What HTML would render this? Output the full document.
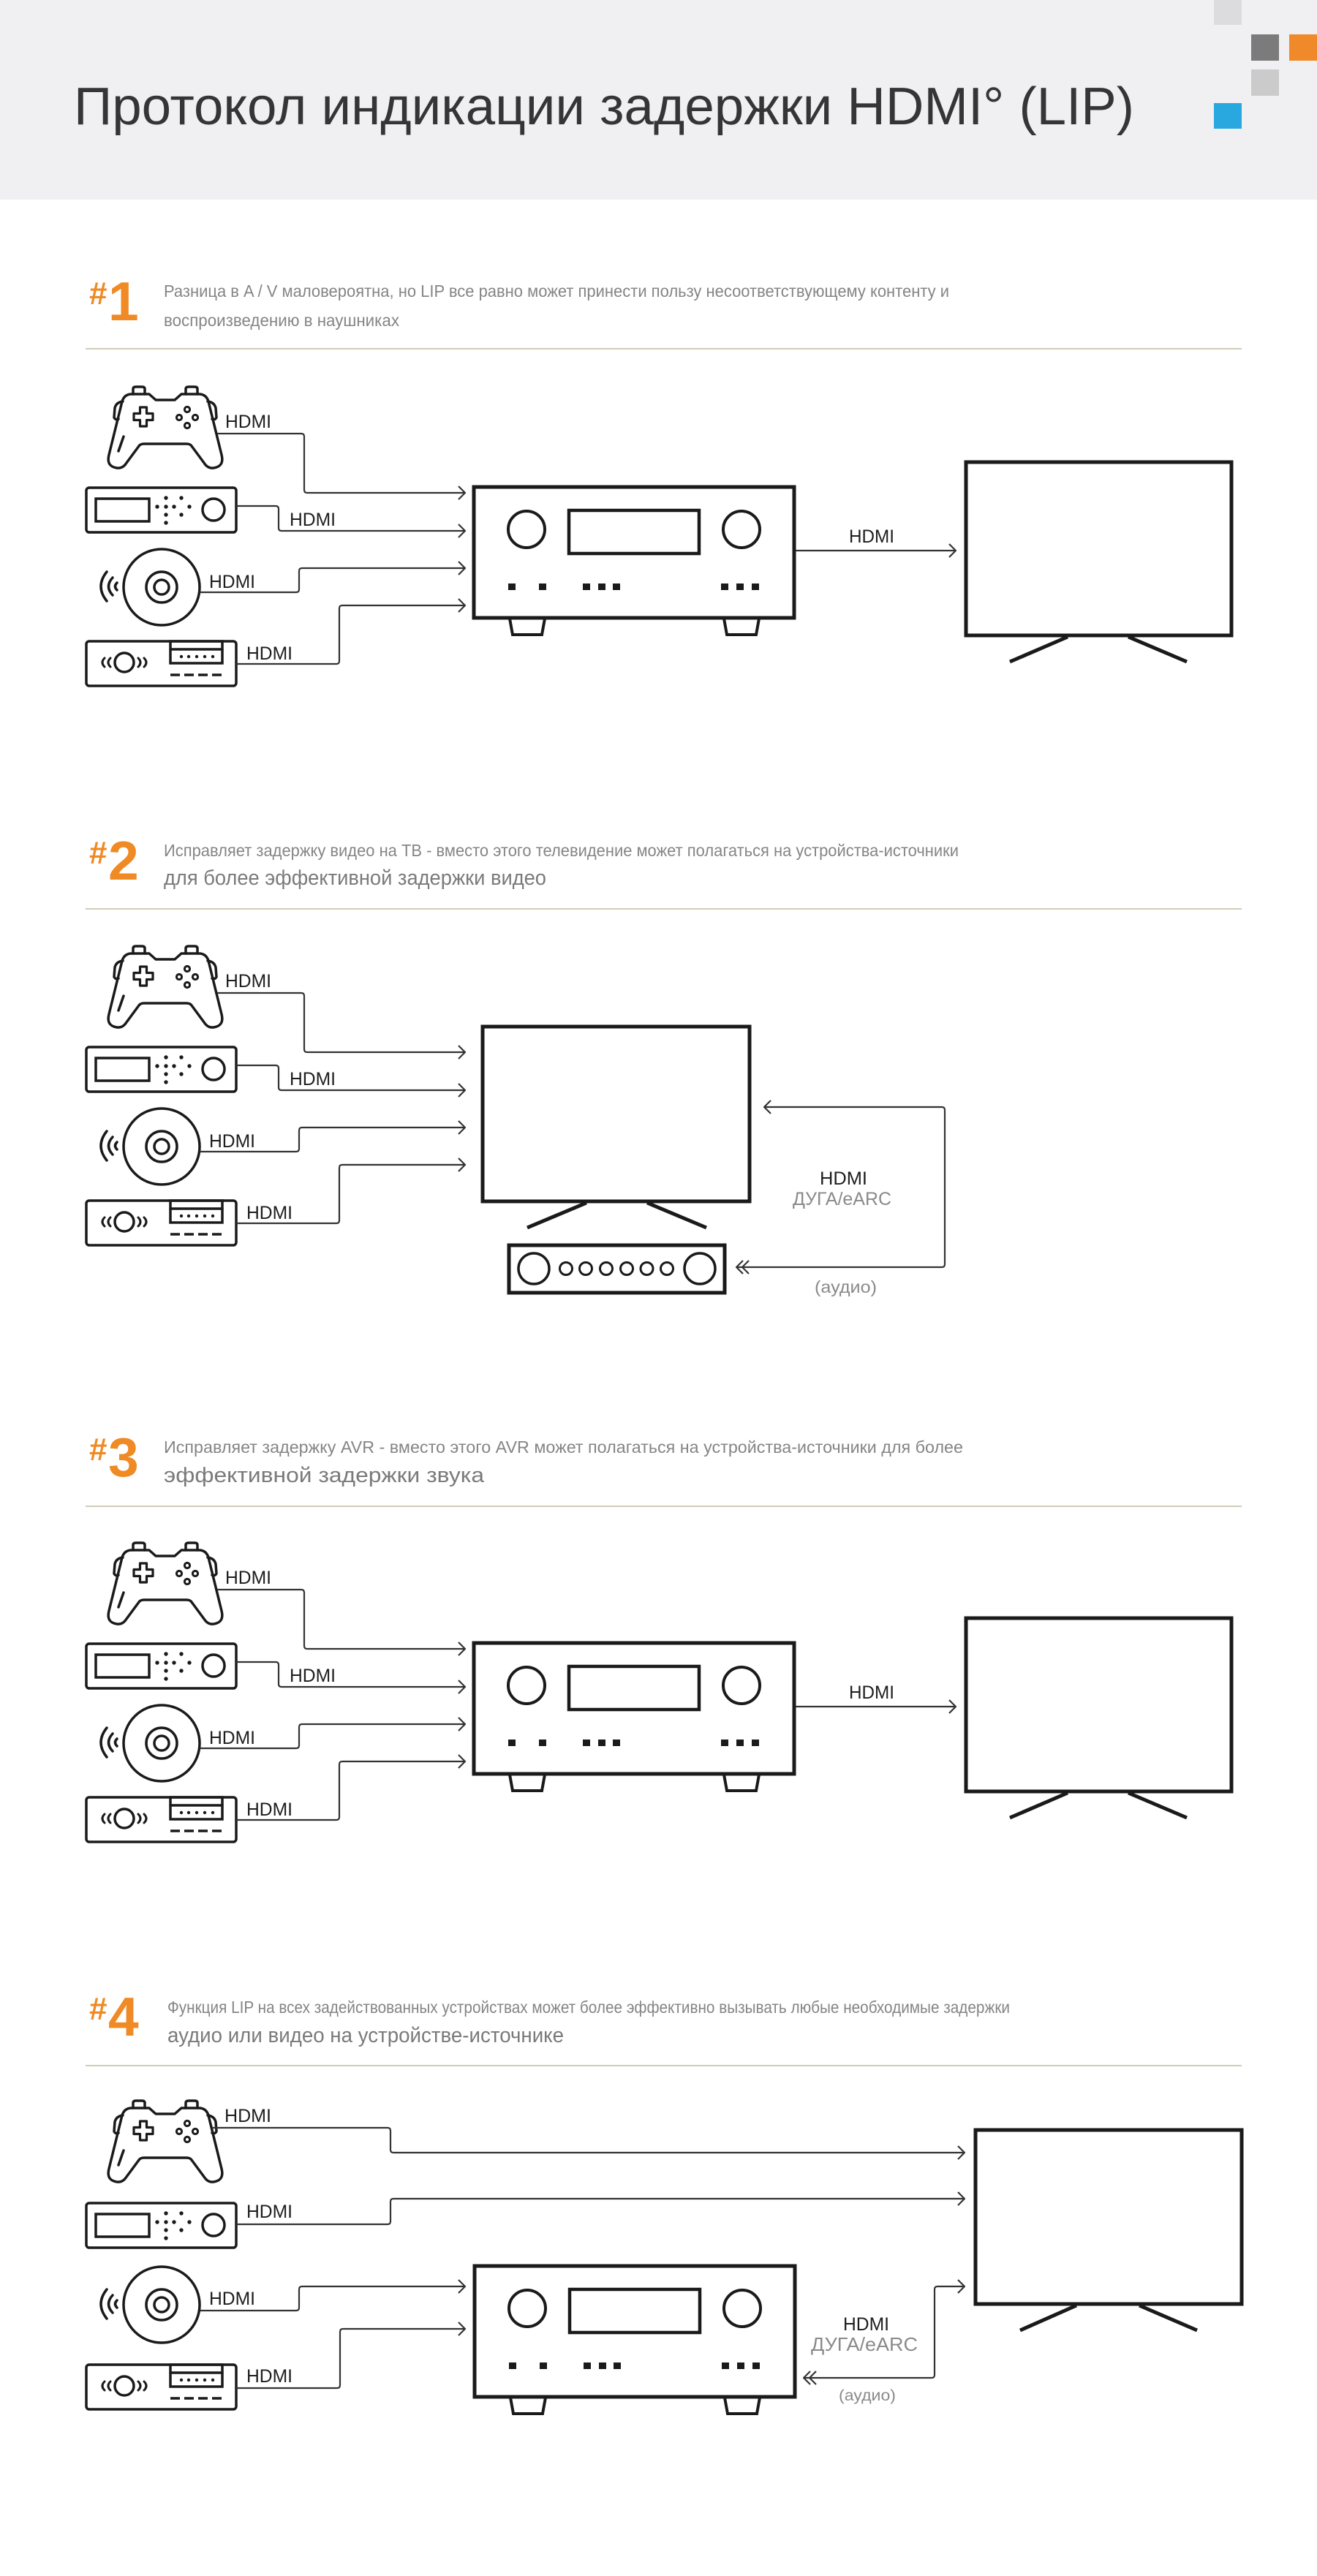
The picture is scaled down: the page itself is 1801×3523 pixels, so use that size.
<!DOCTYPE html>
<html>
<head>
<meta charset="utf-8">
<style>
html,body{margin:0;padding:0;background:#fff;}
svg{display:block;}
text{font-family:"Liberation Sans", Arial, sans-serif;}
</style>
</head>
<body>
<svg xmlns="http://www.w3.org/2000/svg" width="1801" height="3523" viewBox="0 0 1801 3523">
<defs>
  <g id="gamepad" fill="none" stroke="#1a1a1a" stroke-width="3.5" stroke-linejoin="round" stroke-linecap="round">
    <path d="M182 539 L182 532 Q182 529 186 529 L194 529 Q198 529 198 532 L198 539"/>
    <path d="M254 539 L254 532 Q254 529 258 529 L266 529 Q270 529 270 532 L270 539"/>
    <path d="M180 539 L204 539 L213 547 L239 547 L248 539 L272 539 Q282 539 285 549 L303 622 Q307 638 292 640 Q284 641 279 633 L262 610 Q260 607 255 607 L197 607 Q192 607 190 610 L173 633 Q168 641 160 640 Q145 638 149 622 L167 549 Q170 539 180 539 Z"/>
    <path d="M168 549 Q159 550 157 558 L156 571 Q158 575 162 573"/>
    <path d="M284 549 Q293 550 295 558 L296 571 Q294 575 290 573"/>
    <path d="M191.5 557 H200.5 V565.5 H209 V574.5 H200.5 V583 H191.5 V574.5 H183 V565.5 H191.5 Z" stroke-width="3.2"/>
    <circle cx="256" cy="560" r="3.6" stroke-width="3"/>
    <circle cx="245" cy="571" r="3.6" stroke-width="3"/>
    <circle cx="267" cy="571" r="3.6" stroke-width="3"/>
    <circle cx="256" cy="582" r="3.6" stroke-width="3"/>
    <path d="M169 597 L162 617"/>
  </g>
  <g id="box2">
    <g fill="none" stroke="#1a1a1a" stroke-width="3.5">
      <rect x="118" y="667" width="205" height="61" rx="4"/>
      <rect x="131" y="682" width="73" height="31"/>
      <circle cx="292" cy="697" r="15"/>
    </g>
    <g fill="#1a1a1a">
      <circle cx="227" cy="681" r="2.7"/>
      <circle cx="227" cy="693" r="2.7"/>
      <circle cx="227" cy="704" r="2.7"/>
      <circle cx="227" cy="715" r="2.7"/>
      <circle cx="248" cy="681" r="2.7"/>
      <circle cx="248" cy="704" r="2.7"/>
      <circle cx="215" cy="693" r="2.7"/>
      <circle cx="238" cy="693" r="2.7"/>
      <circle cx="259" cy="693" r="2.7"/>
    </g>
  </g>
  <g id="cd" fill="none" stroke="#1a1a1a" stroke-width="3.5" stroke-linecap="round">
    <circle cx="221" cy="803" r="52"/>
    <circle cx="221" cy="803" r="21"/>
    <circle cx="221" cy="803" r="10"/>
    <path d="M146 782 Q130 802 146 822"/>
    <path d="M154 790 Q143 802 154 814"/>
    <path d="M160 797 Q155 802 160 807"/>
  </g>
  <g id="box4">
    <g fill="none" stroke="#1a1a1a" stroke-width="3.5" stroke-linecap="round">
      <rect x="118" y="877" width="205" height="61" rx="4"/>
      <circle cx="170" cy="906" r="13"/>
      <path d="M143 900 Q137 906 143 912" stroke-width="3"/>
      <path d="M151 900 Q145 906 151 912" stroke-width="3"/>
      <path d="M189 900 Q195 906 189 912" stroke-width="3"/>
      <path d="M197 900 Q203 906 197 912" stroke-width="3"/>
      <rect x="233" y="877" width="71" height="30" stroke-linecap="butt"/>
      <line x1="233" y1="888" x2="304" y2="888"/>
      <line x1="233" y1="923" x2="304" y2="923" stroke-linecap="butt" stroke-dasharray="13 6"/>
    </g>
    <g fill="#1a1a1a">
      <circle cx="248" cy="898" r="2.2"/>
      <circle cx="258" cy="898" r="2.2"/>
      <circle cx="269" cy="898" r="2.2"/>
      <circle cx="280" cy="898" r="2.2"/>
      <circle cx="291" cy="898" r="2.2"/>
    </g>
  </g>
  <g id="avr">
    <g fill="none" stroke="#1a1a1a">
      <rect x="648" y="666" width="438" height="179" stroke-width="5"/>
      <circle cx="720" cy="724" r="25" stroke-width="4"/>
      <circle cx="1014" cy="724" r="25" stroke-width="4"/>
      <rect x="778" y="698" width="178" height="59" stroke-width="4.5"/>
      <path d="M697 846 L701 868 L741 868 L745 846" stroke-width="4"/>
      <path d="M990 846 L994 868 L1034 868 L1038 846" stroke-width="4"/>
    </g>
    <g fill="#1a1a1a">
      <rect x="695" y="798" width="10" height="9"/>
      <rect x="737" y="798" width="10" height="9"/>
      <rect x="797" y="798" width="10" height="9"/>
      <rect x="818" y="798" width="10" height="9"/>
      <rect x="838" y="798" width="10" height="9"/>
      <rect x="986" y="798" width="10" height="9"/>
      <rect x="1007" y="798" width="10" height="9"/>
      <rect x="1028" y="798" width="10" height="9"/>
    </g>
  </g>
  <g id="tv1" fill="none" stroke="#1a1a1a" stroke-width="5">
    <rect x="1321" y="632" width="363" height="237"/>
    <line x1="1460" y1="871" x2="1381" y2="905"/>
    <line x1="1543" y1="871" x2="1623" y2="905"/>
  </g>
  <g id="conn" fill="none" stroke="#333" stroke-width="2.2" stroke-linejoin="round">
    <path d="M297 593 H412 Q416 593 416 597 V670 Q416 674 420 674 H635"/>
    <path d="M323 692 H377 Q381 692 381 696 V722 Q381 726 385 726 H635"/>
    <path d="M273 810 H405 Q409 810 409 806 V781 Q409 777 413 777 H635"/>
    <path d="M323 908 H460 Q464 908 464 904 V832 Q464 828 468 828 H635"/>
    <path d="M627 665 L636 674 L627 683"/>
    <path d="M627 717 L636 726 L627 735"/>
    <path d="M627 768 L636 777 L627 786"/>
    <path d="M627 819 L636 828 L627 837"/>
  </g>
  <g id="avrtv" fill="none" stroke="#333" stroke-width="2.2" stroke-linejoin="round">
    <path d="M1088 753 H1306"/>
    <path d="M1298 744 L1307 753 L1298 762"/>
  </g>
</defs>

<!-- Header -->
<rect x="0" y="0" width="1801" height="273" fill="#f0f0f2"/>
<rect x="1660" y="0" width="38" height="34" fill="#dcdcde"/>
<rect x="1711" y="47" width="38" height="36" fill="#7b7b7b"/>
<rect x="1763" y="47" width="38" height="36" fill="#f0892a"/>
<rect x="1711" y="95" width="38" height="36" fill="#cbcbcb"/>
<rect x="1660" y="141" width="38" height="35" fill="#29a8e0"/>
<text x="101" y="170" font-size="72" fill="#353535" textLength="1450" lengthAdjust="spacingAndGlyphs">Протокол индикации задержки HDMI° (LIP)</text>

<!-- Section headings -->
<g font-weight="bold" fill="#ef8a25">
  <text x="122" y="416" font-size="44">#</text>
  <text x="148" y="438" font-size="75">1</text>
  <text x="122" y="1181" font-size="44">#</text>
  <text x="148" y="1203" font-size="75">2</text>
  <text x="122" y="1997" font-size="44">#</text>
  <text x="148" y="2019" font-size="75">3</text>
  <text x="122" y="2762" font-size="44">#</text>
  <text x="148" y="2784" font-size="75">4</text>
</g>

<g fill="#858585">
  <text x="224" y="406" font-size="23" textLength="1074" lengthAdjust="spacingAndGlyphs">Разница в A / V маловероятна, но LIP все равно может принести пользу несоответствующему контенту и</text>
  <text x="224" y="446" font-size="23" textLength="322" lengthAdjust="spacingAndGlyphs">воспроизведению в наушниках</text>
  <text x="224" y="1171" font-size="23" textLength="1087" lengthAdjust="spacingAndGlyphs">Исправляет задержку видео на ТВ - вместо этого телевидение может полагаться на устройства-источники</text>
  <text x="224" y="1987" font-size="23" textLength="1093" lengthAdjust="spacingAndGlyphs">Исправляет задержку AVR - вместо этого AVR может полагаться на устройства-источники для более</text>
  <text x="229" y="2753" font-size="23" textLength="1152" lengthAdjust="spacingAndGlyphs">Функция LIP на всех задействованных устройствах может более эффективно вызывать любые необходимые задержки</text>
</g>
<g fill="#7a7a7a">
  <text x="224" y="1210" font-size="29" textLength="523" lengthAdjust="spacingAndGlyphs">для более эффективной задержки видео</text>
  <text x="224" y="2027" font-size="29" textLength="438" lengthAdjust="spacingAndGlyphs">эффективной задержки звука</text>
  <text x="229" y="2793" font-size="29" textLength="542" lengthAdjust="spacingAndGlyphs">аудио или видео на устройстве-источнике</text>
</g>

<g stroke="#cfcdb5" stroke-width="2">
  <line x1="117" y1="477" x2="1698" y2="477"/>
  <line x1="117" y1="1243" x2="1698" y2="1243"/>
  <line x1="117" y1="2060" x2="1698" y2="2060"/>
  <line x1="117" y1="2825" x2="1698" y2="2825"/>
</g>

<!-- Section 1 -->
<use href="#gamepad"/>
<use href="#box2"/>
<use href="#cd"/>
<use href="#box4"/>
<use href="#conn"/>
<use href="#avr"/>
<use href="#tv1"/>
<use href="#avrtv"/>
<g font-size="25" fill="#1e1e1e">
  <text x="308" y="585" textLength="63" lengthAdjust="spacingAndGlyphs">HDMI</text>
  <text x="396" y="719" textLength="63" lengthAdjust="spacingAndGlyphs">HDMI</text>
  <text x="286" y="804" textLength="63" lengthAdjust="spacingAndGlyphs">HDMI</text>
  <text x="337" y="902" textLength="63" lengthAdjust="spacingAndGlyphs">HDMI</text>
  <text x="1161" y="742" textLength="62" lengthAdjust="spacingAndGlyphs">HDMI</text>
</g>

<!-- Section 2 -->
<use href="#gamepad" y="765"/>
<use href="#box2" y="765"/>
<use href="#cd" y="765"/>
<use href="#box4" y="765"/>
<use href="#conn" y="765"/>
<g fill="none" stroke="#1a1a1a" stroke-width="5">
  <rect x="660" y="1404" width="365" height="239"/>
  <line x1="802" y1="1645" x2="721" y2="1679"/>
  <line x1="885" y1="1645" x2="966" y2="1679"/>
  <rect x="696" y="1703" width="295" height="65"/>
</g>
<g fill="none" stroke="#1a1a1a" stroke-width="3.5">
  <circle cx="730" cy="1735" r="21"/>
  <circle cx="957" cy="1735" r="21"/>
  <circle cx="774" cy="1735" r="8.5" stroke-width="3"/>
  <circle cx="801" cy="1735" r="8.5" stroke-width="3"/>
  <circle cx="829" cy="1735" r="8.5" stroke-width="3"/>
  <circle cx="857" cy="1735" r="8.5" stroke-width="3"/>
  <circle cx="884.5" cy="1735" r="8.5" stroke-width="3"/>
  <circle cx="912" cy="1735" r="8.5" stroke-width="3"/>
</g>
<g fill="none" stroke="#333" stroke-width="2.2" stroke-linejoin="round">
  <path d="M1046 1514 H1288 Q1292 1514 1292 1518 V1729 Q1292 1733 1288 1733 H1008"/>
  <path d="M1054 1505 L1045 1514 L1054 1523"/>
  <path d="M1016 1724 L1007 1733 L1016 1742"/>
  <path d="M1024 1724 L1015 1733 L1024 1742"/>
</g>
<g font-size="25" fill="#1e1e1e">
  <text x="308" y="1350" textLength="63" lengthAdjust="spacingAndGlyphs">HDMI</text>
  <text x="396" y="1484" textLength="63" lengthAdjust="spacingAndGlyphs">HDMI</text>
  <text x="286" y="1569" textLength="63" lengthAdjust="spacingAndGlyphs">HDMI</text>
  <text x="337" y="1667" textLength="63" lengthAdjust="spacingAndGlyphs">HDMI</text>
  <text x="1121" y="1620" textLength="65" lengthAdjust="spacingAndGlyphs">HDMI</text>
</g>
<g fill="#8a8a8a">
  <text x="1084" y="1648" font-size="25" textLength="135" lengthAdjust="spacingAndGlyphs">ДУГА/eARC</text>
  <text x="1114" y="1768" font-size="23" textLength="85" lengthAdjust="spacingAndGlyphs">(аудио)</text>
</g>

<!-- Section 3 -->
<use href="#gamepad" y="1581"/>
<use href="#box2" y="1581"/>
<use href="#cd" y="1581"/>
<use href="#box4" y="1581"/>
<use href="#conn" y="1581"/>
<use href="#avr" y="1581"/>
<use href="#tv1" y="1581"/>
<use href="#avrtv" y="1581"/>
<g font-size="25" fill="#1e1e1e">
  <text x="308" y="2166" textLength="63" lengthAdjust="spacingAndGlyphs">HDMI</text>
  <text x="396" y="2300" textLength="63" lengthAdjust="spacingAndGlyphs">HDMI</text>
  <text x="286" y="2385" textLength="63" lengthAdjust="spacingAndGlyphs">HDMI</text>
  <text x="337" y="2483" textLength="63" lengthAdjust="spacingAndGlyphs">HDMI</text>
  <text x="1161" y="2323" textLength="62" lengthAdjust="spacingAndGlyphs">HDMI</text>
</g>

<!-- Section 4 -->
<use href="#gamepad" y="2344"/>
<use href="#box2" y="2346"/>
<use href="#cd" y="2349"/>
<use href="#box4" y="2357"/>
<use href="#avr" x="1" y="2433"/>
<g fill="none" stroke="#1a1a1a" stroke-width="5">
  <rect x="1334" y="2913" width="364" height="238"/>
  <line x1="1472" y1="3153" x2="1395" y2="3187"/>
  <line x1="1558" y1="3153" x2="1637" y2="3187"/>
</g>
<g fill="none" stroke="#333" stroke-width="2.2" stroke-linejoin="round">
  <path d="M290 2910 H530 Q534 2910 534 2914 V2940 Q534 2944 538 2944 H1318"/>
  <path d="M1310 2935 L1319 2944 L1310 2953"/>
  <path d="M323 3042 H530 Q534 3042 534 3038 V3011 Q534 3007 538 3007 H1318"/>
  <path d="M1310 2998 L1319 3007 L1310 3016"/>
  <path d="M274 3160 H405 Q409 3160 409 3156 V3131 Q409 3127 413 3127 H635"/>
  <path d="M627 3118 L636 3127 L627 3136"/>
  <path d="M323 3266 H461 Q465 3266 465 3262 V3189 Q465 3185 469 3185 H635"/>
  <path d="M627 3176 L636 3185 L627 3194"/>
  <path d="M1318 3127 H1282 Q1278 3127 1278 3131 V3248 Q1278 3252 1274 3252 H1100"/>
  <path d="M1310 3118 L1319 3127 L1310 3136"/>
  <path d="M1108 3243 L1099 3252 L1108 3261"/>
  <path d="M1116 3243 L1107 3252 L1116 3261"/>
</g>
<g font-size="25" fill="#1e1e1e">
  <text x="307" y="2902" textLength="64" lengthAdjust="spacingAndGlyphs">HDMI</text>
  <text x="337" y="3033" textLength="63" lengthAdjust="spacingAndGlyphs">HDMI</text>
  <text x="286" y="3152" textLength="63" lengthAdjust="spacingAndGlyphs">HDMI</text>
  <text x="337" y="3258" textLength="63" lengthAdjust="spacingAndGlyphs">HDMI</text>
  <text x="1153" y="3187" textLength="63" lengthAdjust="spacingAndGlyphs">HDMI</text>
</g>
<g fill="#8a8a8a">
  <text x="1109" y="3215" font-size="26" textLength="146" lengthAdjust="spacingAndGlyphs">ДУГА/eARC</text>
  <text x="1147" y="3283" font-size="21" textLength="78" lengthAdjust="spacingAndGlyphs">(аудио)</text>
</g>
</svg>
</body>
</html>
